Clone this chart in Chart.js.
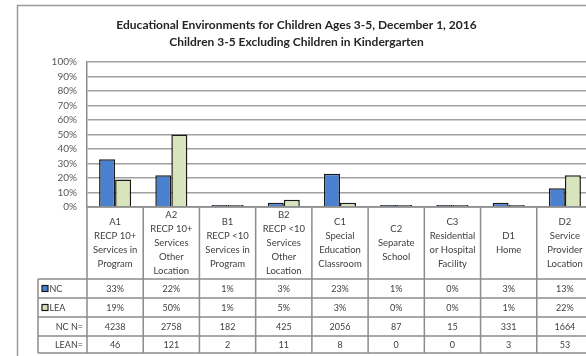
<!DOCTYPE html>
<html>
<head>
<meta charset="utf-8">
<script src="https://cdn.jsdelivr.net/npm/chart.js@4/dist/chart.umd.min.js"></script>
<style>
html,body{margin:0;padding:0;background:#fff;overflow:hidden;width:586px;height:356px;}
#wrap{position:absolute;left:0;top:0;width:620px;height:356px;}
</style>
</head>
<body>
<div id="wrap"><canvas id="c" width="620" height="356"></canvas></div>
<script>
const categories = ["A1","A2","B1","B2","C1","C2","C3","D1","D2"];
const headerLabels = [
  ["A1","RECP 10+","Services in","Program"],
  ["A2","RECP 10+","Services","Other","Location"],
  ["B1","RECP <10","Services in","Program"],
  ["B2","RECP <10","Services","Other","Location"],
  ["C1","Special","Education","Classroom"],
  ["C2","Separate","School"],
  ["C3","Residential","or Hospital","Facility"],
  ["D1","Home"],
  ["D2","Service","Provider","Location"]
];
const ncValues  = [33, 22, 1, 3, 23, 1, 0, 3, 13];
const leaValues = [19, 50, 1, 5, 3, 0, 0, 1, 22];
const ncN  = [4238, 2758, 182, 425, 2056, 87, 15, 331, 1664];
const leaN = [46, 121, 2, 11, 8, 0, 0, 3, 53];
const yTicks = [0,10,20,30,40,50,60,70,80,90,100];
const titleLines = ["Educational Environments for Children Ages 3-5, December 1, 2016","Children 3-5 Excluding Children in Kindergarten"];

const NC_COLOR = "#4a80d0";
const LEA_COLOR = "#d8e4bc";
const FONT = "Lato";

const tablePlugin = {
  id: "dataTable",
  beforeDraw(chart) {
    const ctx = chart.ctx;
    ctx.save();
    ctx.strokeStyle = "#9a9a9a";
    ctx.lineWidth = 1.5;
    ctx.strokeRect(17.5, 5.5, 700, 400);
    ctx.restore();
  },
  afterDraw(chart) {
    const ctx = chart.ctx;
    const x = chart.scales.x;
    const area = chart.chartArea;
    const n = categories.length;
    const colW = (area.right - area.left) / n;
    const rowTops = [279, 298, 317, 336, 353];
    const leftCol = 38;
    ctx.save();
    ctx.strokeStyle = "#8c8c8c";
    ctx.lineWidth = 1.5;
    ctx.beginPath();
    ctx.moveTo(area.left, area.bottom); ctx.lineTo(area.right, area.bottom);
    rowTops.forEach(y => { ctx.moveTo(leftCol, y); ctx.lineTo(area.right, y); });
    for (let i = 0; i <= n; i++) {
      const bx = area.left + i * colW;
      ctx.moveTo(bx, area.bottom); ctx.lineTo(bx, rowTops[4]);
    }
    ctx.moveTo(leftCol, rowTops[0]); ctx.lineTo(leftCol, rowTops[4]);
    ctx.stroke();

    ctx.fillStyle = "#404040";
    ctx.textAlign = "center";
    ctx.textBaseline = "middle";
    ctx.font = "9.5px " + FONT;
    const hMid = (area.bottom + rowTops[0]) / 2;
    const lh = 14;
    categories.forEach((c, i) => {
      const cx = x.getPixelForValue(i);
      const lines = headerLabels[i];
      const y0 = hMid - (lines.length - 1) * lh / 2;
      lines.forEach((t, k) => ctx.fillText(t, cx, y0 + k * lh));
    });
    ctx.font = "9px " + FONT;
    categories.forEach((c, i) => {
      const cx = x.getPixelForValue(i);
      const rows = [ncValues[i] + "%", leaValues[i] + "%", String(ncN[i]), String(leaN[i])];
      rows.forEach((t, r) => ctx.fillText(t, cx, (rowTops[r] + rowTops[r + 1]) / 2 + 0.5));
    });
    const m0 = (rowTops[0] + rowTops[1]) / 2, m1 = (rowTops[1] + rowTops[2]) / 2;
    ctx.lineWidth = 1.2;
    ctx.strokeStyle = "#1a1a1a";
    ctx.fillStyle = NC_COLOR; ctx.fillRect(42, m0 - 3, 6, 6); ctx.strokeRect(42, m0 - 3, 6, 6);
    ctx.fillStyle = LEA_COLOR; ctx.fillRect(42, m1 - 3, 6, 6); ctx.strokeRect(42, m1 - 3, 6, 6);
    ctx.fillStyle = "#404040";
    ctx.textAlign = "left";
    ctx.fillText("NC", 49.5, m0 + 0.5);
    ctx.fillText("LEA", 49.5, m1 + 0.5);
    ctx.textAlign = "right";
    ctx.fillText("NC N=", 83, (rowTops[2] + rowTops[3]) / 2 + 0.5);
    ctx.fillText("LEAN=", 83, (rowTops[3] + rowTops[4]) / 2 + 0.5);
    ctx.restore();
  }
};

new Chart(document.getElementById("c"), {
  type: "bar",
  data: {
    labels: categories,
    datasets: [
      { label: "NC", data: ncValues, backgroundColor: NC_COLOR, borderColor: "#1a1a1a", borderWidth: 1.5, minBarLength: 2 },
      { label: "LEA", data: leaValues, backgroundColor: LEA_COLOR, borderColor: "#1a1a1a", borderWidth: 1.5, minBarLength: 2 }
    ]
  },
  options: {
    responsive: false,
    animation: false,
    layout: { padding: { left: 0, right: 27, top: 0, bottom: 0 } },
    plugins: {
      legend: { display: false },
      tooltip: { enabled: false },
      title: {
        display: true,
        text: titleLines,
        color: "#262626",
        font: { family: FONT, size: 12, weight: "bold", lineHeight: 1.38 },
        padding: { top: 17, bottom: 12 }
      }
    },
    scales: {
      x: {
        grid: { display: false },
        border: { display: false },
        ticks: { display: false },
        afterFit(s) { s.height = 149; }
      },
      y: {
        min: 0, max: 100,
        afterBuildTicks(s) { s.ticks = yTicks.map(v => ({ value: v })); },
        afterFit(s) { s.width = 87; },
        grid: { color: "#a0a0a0", lineWidth: 1.5, drawTicks: false },
        border: { display: true, color: "#8c8c8c", width: 1.5 },
        ticks: {
          autoSkip: false,
          padding: 10,
          color: "#595959",
          font: { family: FONT, size: 10 },
          callback: v => v + "%"
        }
      }
    },
    datasets: { bar: { categoryPercentage: 0.57, barPercentage: 1.0 } }
  },
  plugins: [tablePlugin]
});
</script>
</body>
</html>
